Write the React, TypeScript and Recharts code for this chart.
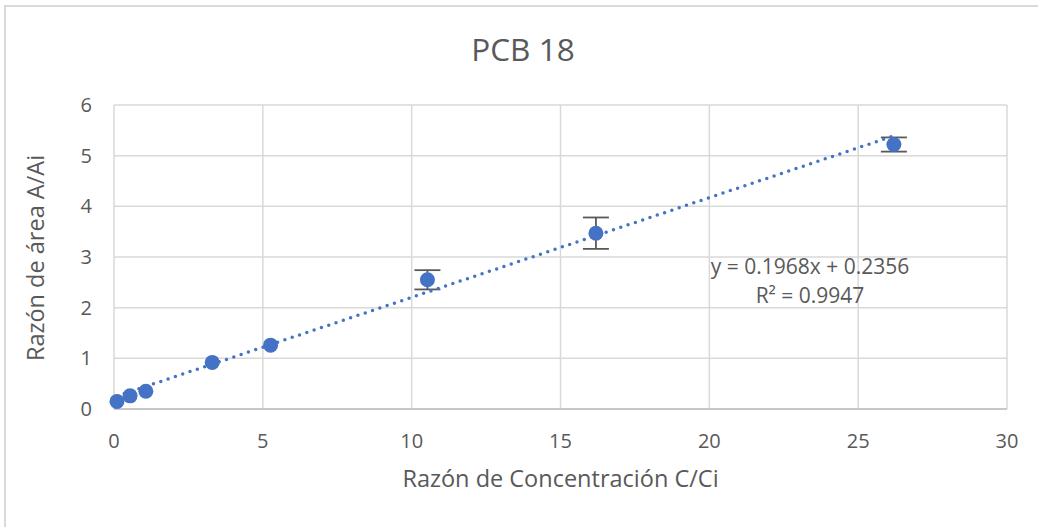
import React from 'react';
import { ScatterChart, Scatter, XAxis, YAxis, CartesianGrid, ErrorBar } from 'recharts';

const concRatio = [0.1, 0.54, 1.07, 3.3, 5.26, 10.53, 16.19, 26.2];
const areaRatio = [0.15, 0.26, 0.35, 0.92, 1.26, 2.55, 3.47, 5.22];
const areaError = [null, null, null, null, null, 0.19, 0.31, 0.14];

const xTicks = [0, 5, 10, 15, 20, 25, 30];
const yTicks = [0, 1, 2, 3, 4, 5, 6];

const slope = 0.1968;
const intercept = 0.2356;
const rSquared = 0.9947;
const trendRange = [0.1, 26.2];

const BLUE = '#4472C4';
const TEXT = '#595959';
const GRID = '#d9d9d9';
const FONT = '"Open Sans", sans-serif';

const points = concRatio.map((x, i) => ({ x, y: areaRatio[i], err: areaError[i] }));
const trend = trendRange.map(x => ({ x, y: slope * x + intercept }));

const Marker = (props: any) => {
  const { cx, cy } = props;
  if (cx == null || cy == null) return null;
  return <circle cx={cx} cy={cy} r={7.5} fill={BLUE} />;
};

export default function App() {
  return (
    <div style={{ position: 'absolute', left: 0, top: 0, width: 1038, height: 527, overflow: 'hidden', background: '#fff', fontFamily: FONT }}>
      <div style={{ position: 'absolute', left: 4, top: 5, width: 1060, height: 560, border: `2px solid ${GRID}` }} />
      <ScatterChart width={1038} height={527} margin={{ top: 105, right: 31, bottom: 78, left: 54 }}>
        <CartesianGrid stroke={GRID} strokeWidth={1.5} />
        <XAxis
          type="number"
          dataKey="x"
          domain={[0, 30]}
          ticks={xTicks}
          tickLine={false}
          tickSize={0}
          tickMargin={25}
          height={40}
          stroke="#bfbfbf"
          strokeWidth={1.5}
          tick={{ fill: TEXT, fontSize: 20, fontFamily: FONT }}
        />
        <YAxis
          type="number"
          dataKey="y"
          domain={[0, 6]}
          ticks={yTicks}
          tickLine={false}
          axisLine={false}
          tickSize={0}
          tickMargin={22}
          width={60}
          tick={{ fill: TEXT, fontSize: 20, fontFamily: FONT }}
        />
        <Scatter
          data={trend}
          isAnimationActive={false}
          shape={() => null}
          line={{ stroke: BLUE, strokeWidth: 3.5, strokeDasharray: '0 7.7', strokeLinecap: 'round' }}
        />
        <Scatter data={points} isAnimationActive={false} shape={() => null}>
          <ErrorBar dataKey="err" direction="y" width={13} stroke={TEXT} strokeWidth={1.8} />
        </Scatter>
        <Scatter data={points} isAnimationActive={false} shape={<Marker />} fill={BLUE} />
      </ScatterChart>
      <div style={{ position: 'absolute', left: 0, width: 1046, top: 27, textAlign: 'center', fontSize: 31.5, color: TEXT }}>
        PCB 18
      </div>
      <div style={{ position: 'absolute', left: 114, width: 893, top: 462, textAlign: 'center', fontSize: 23.5, color: TEXT }}>
        Razón de Concentración C/Ci
      </div>
      <div
        style={{
          position: 'absolute', left: 35, top: 258, width: 300, marginLeft: -150, textAlign: 'center',
          fontSize: 23.5, color: TEXT, transform: 'translateY(-50%) rotate(-90deg)', lineHeight: '30px'
        }}
      >
        Razón de área A/Ai
      </div>
      <div style={{ position: 'absolute', left: 660, width: 300, top: 252, textAlign: 'center', fontSize: 21, color: TEXT, lineHeight: '29px' }}>
        <div>y = {slope}x + {intercept}</div>
        <div>R² = {rSquared}</div>
      </div>
    </div>
  );
}
